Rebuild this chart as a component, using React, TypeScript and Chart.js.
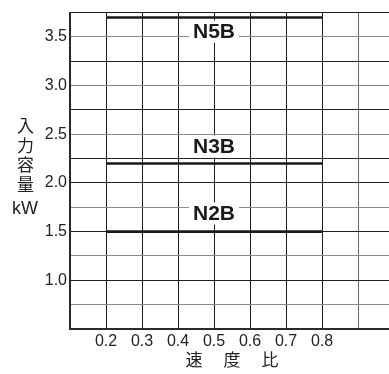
import React, { useEffect, useRef } from "react";
import { Chart, registerables } from "chart.js";

Chart.register(...registerables);

// ---- data ----
const seriesNames = ["N5B", "N3B", "N2B"];
const seriesPower = [3.7, 2.2, 1.5]; // kW
const speedStart = [0.2, 0.2, 0.2];
const speedEnd = [0.8, 0.8, 0.8];
const labelSpeed = [0.5, 0.5, 0.5];
const labelPower = [3.555, 2.374, 1.686];

const xTickValues = [0.1, 0.2, 0.3, 0.4, 0.5, 0.6, 0.7, 0.8, 0.9];
const xTickLabels = ["", "0.2", "0.3", "0.4", "0.5", "0.6", "0.7", "0.8", ""];
const yTickValues = [0.5, 0.75, 1.0, 1.25, 1.5, 1.75, 2.0, 2.25, 2.5, 2.75, 3.0, 3.25, 3.5, 3.75];
const yTickLabels = ["", "", "1.0", "", "1.5", "", "2.0", "", "2.5", "", "3.0", "", "3.5", ""];
const yGrayLines = [0.75, 1.25, 1.75, 2.5, 3.0, 3.5];

const yTitleChars = ["入", "力", "容", "量"];
const yTitleUnit = "kW";
const xTitleChars = ["速", "度", "比"];

const SANS = "'Liberation Sans', Arial, Helvetica, sans-serif";
const CJK = "'Noto Sans CJK JP', 'Noto Sans CJK SC', sans-serif";

const annotationPlugin = {
  id: "annotations",
  afterDatasetsDraw(chart: any) {
    const { ctx, scales } = chart;
    const xs = scales.x;
    const ys = scales.y;
    ctx.save();
    ctx.font = `bold 21px ${SANS}`;
    ctx.textAlign = "center";
    ctx.textBaseline = "middle";
    seriesNames.forEach((name, i) => {
      const cx = xs.getPixelForValue(labelSpeed[i]);
      const cy = ys.getPixelForValue(labelPower[i]);
      const w = ctx.measureText(name).width;
      ctx.fillStyle = "#ffffff";
      ctx.fillRect(cx - w / 2 - 4, cy - 11, w + 8, 22);
      ctx.fillStyle = "#1a1a1a";
      ctx.fillText(name, cx, cy + 1);
    });
    // y title (vertical stacked)
    ctx.fillStyle = "#222";
    ctx.font = `17px ${CJK}`;
    yTitleChars.forEach((ch, i) => {
      ctx.fillText(ch, 25.5, 126 + i * 19.5);
    });
    ctx.font = `18px ${SANS}`;
    ctx.fillText(yTitleUnit, 25, 209);
    // x title
    ctx.font = `17px ${CJK}`;
    xTitleChars.forEach((ch, i) => {
      ctx.fillText(ch, 194 + i * 38, 360);
    });
    ctx.restore();
  },
};

export default function App() {
  const ref = useRef<HTMLCanvasElement | null>(null);
  useEffect(() => {
    if (!ref.current) return;
    const datasets = seriesNames.map((name, i) => ({
      label: name,
      data: [
        { x: speedStart[i], y: seriesPower[i] },
        { x: speedEnd[i], y: seriesPower[i] },
      ],
      borderColor: "#1a1a1a",
      borderWidth: 2.6,
      pointRadius: 0,
      fill: false,
      tension: 0,
    }));
    const chart = new Chart(ref.current, {
      type: "line",
      data: { datasets },
      plugins: [annotationPlugin],
      options: {
        animation: false,
        responsive: true,
        maintainAspectRatio: false,
        layout: { padding: { top: 12, right: 0, left: 0, bottom: 0 } },
        plugins: {
          legend: { display: false },
          tooltip: { enabled: false },
          title: { display: false },
        },
        scales: {
          x: {
            type: "linear",
            min: 0.1,
            max: 0.986,
            afterBuildTicks: (axis: any) => {
              axis.ticks = xTickValues.map((v) => ({ value: v }));
            },
            afterFit: (scale: any) => {
              scale.height = 45;
            },
            ticks: {
              autoSkip: false,
              maxRotation: 0,
              padding: 3,
              color: "#222",
              font: { size: 16, family: SANS },
              callback: (_v: any, idx: number) => xTickLabels[idx] ?? "",
            },
            grid: {
              drawTicks: false,
              lineWidth: 1,
              color: (c: any) => {
                const v = c.tick ? c.tick.value : 0;
                return Math.abs(v - 0.9) < 1e-6 ? "#666666" : "#1f1f1f";
              },
            },
            border: { display: true, color: "#2a2a2a", width: 2 },
          },
          y: {
            type: "linear",
            min: 0.5,
            max: 3.75,
            afterBuildTicks: (axis: any) => {
              axis.ticks = yTickValues.map((v) => ({ value: v }));
            },
            afterFit: (scale: any) => {
              scale.width = 70;
            },
            ticks: {
              autoSkip: false,
              padding: 3,
              color: "#222",
              font: { size: 16, family: SANS },
              callback: (_v: any, idx: number) => yTickLabels[idx] ?? "",
            },
            grid: {
              drawTicks: false,
              lineWidth: 1,
              color: (c: any) => {
                const v = c.tick ? c.tick.value : 0;
                return yGrayLines.some((g) => Math.abs(g - v) < 1e-6) ? "#8a8a8a" : "#1f1f1f";
              },
            },
            border: { display: true, color: "#2a2a2a", width: 2 },
          },
        },
      },
    } as any);
    return () => chart.destroy();
  }, []);
  return (
    <div style={{ position: "fixed", left: 0, top: 0, width: 389, height: 374, background: "#fff" }}>
      <canvas ref={ref} />
    </div>
  );
}
